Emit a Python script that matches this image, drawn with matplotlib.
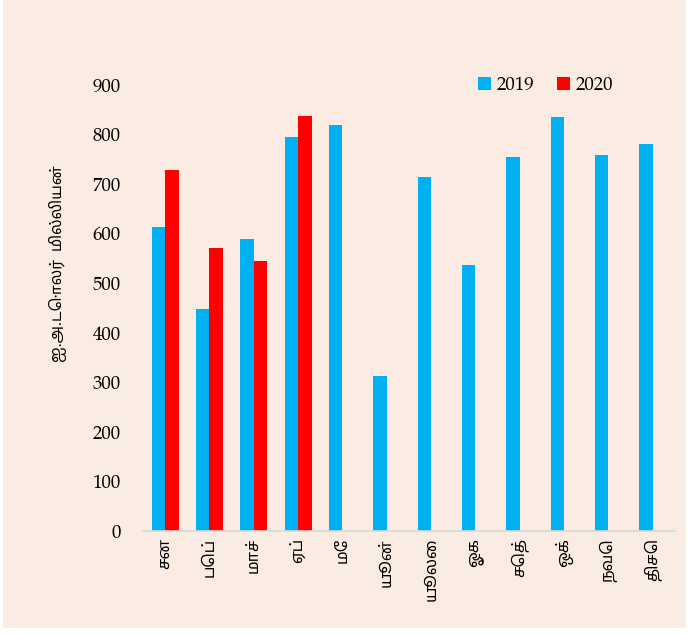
import matplotlib
matplotlib.use('Agg')
import matplotlib.pyplot as plt
from matplotlib import font_manager
import numpy as np

months = ['சன', 'பெப்', 'மாச்', 'ஏப்', 'மே', 'யூன்', 'யூலை', 'ஓக', 'செத்', 'ஒக்', 'நவெ', 'திசெ']
val_2019 = [613, 448, 589, 795, 819, 313, 714, 537, 755, 835, 759, 781]
val_2020 = [728, 571, 545, 837, np.nan, np.nan, np.nan, np.nan, np.nan, np.nan, np.nan, np.nan]
y_ticks = [0, 100, 200, 300, 400, 500, 600, 700, 800, 900]
y_label = 'ஐ.அ.டொலர்  மில்லியன்'

BG = '#FBECE3'
BLUE = '#00B0F0'
RED = '#FF0000'

# palatino-like serif if there is one
installed = {f.name for f in font_manager.fontManager.ttflist}
serif = 'Liberation Serif'
for cand in ['TeX Gyre Pagella', 'P052', 'URW Palladio L', 'Palatino Linotype']:
    if cand in installed:
        serif = cand
        break
TAMIL = ['Noto Sans Tamil', 'DejaVu Sans']

plt.rcParams['font.family'] = [serif, 'Noto Sans Tamil', 'DejaVu Sans']

fig = plt.figure(figsize=(6.89, 6.34), dpi=100)
fig.patch.set_facecolor('white')
fig.patches.append(plt.Rectangle((0.004, 0.01), 0.992, 0.99, transform=fig.transFigure,
                                 facecolor=BG, edgecolor='none', zorder=-1))

ax = fig.add_axes([0.2075, 0.1625, 0.772, 0.7035])
ax.set_facecolor('none')

x = np.arange(len(months))
w = 0.305
ax.bar(x - w / 2, val_2019, w, color=BLUE, label='2019')
ax.bar(x + w / 2, val_2020, w, color=RED, label='2020')

ax.set_xlim(-0.5, len(months) - 0.5)
ax.set_ylim(0, 900)
ax.set_yticks(y_ticks)
ax.set_yticklabels([str(t) for t in y_ticks], fontsize=13.5)
ax.set_xticks(x)
ax.set_xticklabels(months, rotation=90, fontsize=11.5, family=TAMIL)
ax.tick_params(axis='both', length=0)
ax.tick_params(axis='y', pad=16)
ax.tick_params(axis='x', pad=5)

for s in ['top', 'right', 'left']:
    ax.spines[s].set_visible(False)
ax.spines['bottom'].set_color('#D9D9D9')
ax.spines['bottom'].set_linewidth(1.2)

ax.set_ylabel(y_label, fontsize=11, family=TAMIL)
ax.yaxis.set_label_coords(-0.143, 0.6)

ax.legend(loc='upper right', bbox_to_anchor=(0.915, 1.058), ncol=2, frameon=False,
          fontsize=13.5, handlelength=0.7, handleheight=0.7, handletextpad=0.3,
          columnspacing=1.2)

fig.savefig('out.png', dpi=100, facecolor=fig.get_facecolor())
